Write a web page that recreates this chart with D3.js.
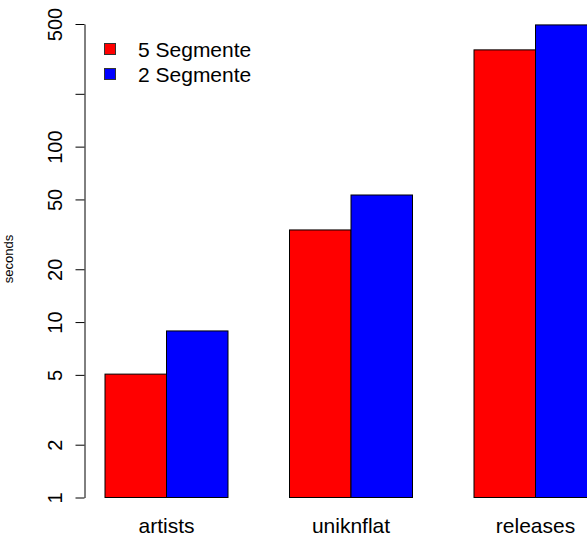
<!DOCTYPE html>
<html>
<head>
<meta charset="utf-8">
<script src="https://cdn.jsdelivr.net/npm/d3@7"></script>
<style>
  body { margin: 0; background: #fff; }
  svg { display: block; font-family: "Liberation Sans", Arial, Helvetica, sans-serif; }
</style>
</head>
<body>
<div id="chart"></div>
<script>
// data
const categories = ["artists", "uniknflat", "releases"];
const seriesNames = ["5 Segmente", "2 Segmente"];
const seg5 = [5.05, 33.5, 356];
const seg2 = [8.9, 53, 494];
const seriesColors = ["#ff0000", "#0000ff"];
const yTicks = [1, 2, 5, 10, 20, 50, 100, 200, 500];
const yTickLabels = ["1", "2", "5", "10", "20", "50", "100", "", "500"];

const width = 587, height = 539;
const axisX = 84.5;

const svg = d3.select("#chart")
  .append("svg")
  .attr("width", width)
  .attr("height", height);

// R style barplot: each group is 2 bars plus one bar width of space
const x = d3.scaleLinear()
  .domain([1, 2])
  .range([105, 166.5]);

const y = d3.scaleLog()
  .domain([1, 500])
  .range([497.5, 24]);

const bars = [];
categories.forEach((c, g) => {
  [seg5, seg2].forEach((s, i) => {
    bars.push({ cat: c, series: i, value: s[g], u: g * 3 + 1 + i });
  });
});

svg.selectAll(".bar")
  .data(bars)
  .enter()
  .append("rect")
  .attr("class", "bar")
  .attr("x", d => x(d.u))
  .attr("y", d => y(d.value))
  .attr("width", d => x(d.u + 1) - x(d.u))
  .attr("height", d => y(1) - y(d.value))
  .attr("fill", d => seriesColors[d.series])
  .attr("stroke", "#000")
  .attr("stroke-width", 1);

// category names under each group
svg.selectAll(".cat")
  .data(categories)
  .enter()
  .append("text")
  .attr("class", "cat")
  .attr("x", (d, g) => x(g * 3 + 2))
  .attr("y", 533)
  .attr("text-anchor", "middle")
  .attr("font-size", 21)
  .attr("fill", "#000")
  .text(d => d);

// y axis, labels turned like R's las=0
const yAxis = svg.append("g")
  .attr("transform", `translate(${axisX},0)`)
  .call(d3.axisLeft(y)
    .tickValues(yTicks)
    .tickFormat((d, i) => yTickLabels[i])
    .tickSize(9)
    .tickSizeOuter(0));

yAxis.select(".domain").attr("stroke", "#000");
yAxis.selectAll(".tick line").attr("stroke", "#000");
yAxis.selectAll(".tick text")
  .attr("transform", "rotate(-90)")
  .attr("x", 0)
  .attr("y", -23)
  .attr("dy", null)
  .attr("text-anchor", "middle")
  .attr("font-size", 20)
  .attr("font-family", "'Liberation Sans', Arial, sans-serif")
  .attr("fill", "#000");

svg.append("text")
  .attr("transform", "translate(13,259) rotate(-90)")
  .attr("text-anchor", "middle")
  .attr("font-size", 13)
  .attr("fill", "#000")
  .text("seconds");

// legend
const legend = svg.append("g");
seriesNames.forEach((name, i) => {
  legend.append("rect")
    .attr("x", 104.5)
    .attr("y", 43.5 + i * 25)
    .attr("width", 11)
    .attr("height", 11)
    .attr("fill", seriesColors[i])
    .attr("stroke", "#333");
  legend.append("text")
    .attr("x", 138)
    .attr("y", 56.5 + i * 25)
    .attr("font-size", 21)
    .attr("fill", "#000")
    .text(name);
});
</script>
</body>
</html>
